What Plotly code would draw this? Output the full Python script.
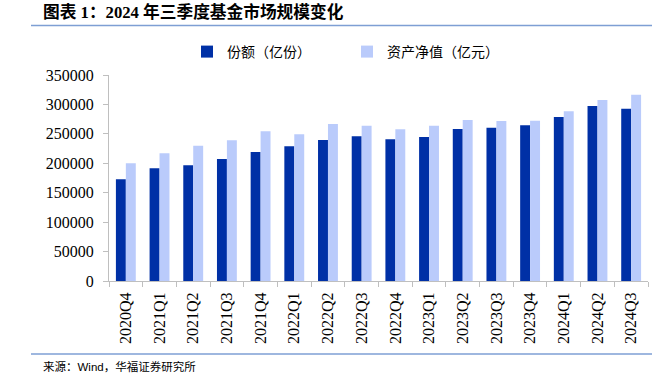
import plotly.graph_objects as go

categories = ["2020Q4", "2021Q1", "2021Q2", "2021Q3", "2021Q4", "2022Q1", "2022Q2", "2022Q3",
              "2022Q4", "2023Q1", "2023Q2", "2023Q3", "2023Q4", "2024Q1", "2024Q2", "2024Q3"]
shares = [172800, 191500, 196600, 207300, 219200, 228800, 239600, 245800,
          240700, 244700, 258300, 260500, 264500, 278600, 297300, 292800]
nav = [200000, 217000, 229900, 239000, 254300, 249200, 266700, 263900,
       257700, 263900, 273500, 271800, 272400, 288300, 307500, 316500]
y_ticks = [0, 50000, 100000, 150000, 200000, 250000, 300000, 350000]

W, H = 666, 380
L, R, T, B = 109, 18, 75, 99
PW, PH = W - L - R, H - T - B


def px_x(p):
    return (p - L) / PW


def px_y(p):
    return 1 + (T - p) / PH


fig = go.Figure()
fig.add_trace(go.Bar(x=categories, y=shares, name="份额（亿份）", marker_color="#0030A6",
                     marker_line_width=0))
fig.add_trace(go.Bar(x=categories, y=nav, name="资产净值（亿元）", marker_color="#BACBFB",
                     marker_line_width=0))

serif = "Liberation Serif, Times New Roman, serif"
cjk = "Noto Sans CJK SC"

fig.update_layout(
    width=W, height=H,
    margin=dict(l=L, r=R, t=T, b=B, pad=0, autoexpand=False),
    paper_bgcolor="white", plot_bgcolor="white",
    barmode="group", bargap=0.41, bargroupgap=0,
    showlegend=True,
    legend=dict(orientation="h", x=px_x(187), xanchor="left",
                y=px_y(52), yanchor="middle",
                font=dict(family=cjk, size=14, color="#000000"),
                entrywidth=115, entrywidthmode="pixels",
                bgcolor="rgba(0,0,0,0)", itemclick=False),
    xaxis=dict(type="category", showline=True, linecolor="#BFBFBF", linewidth=1,
               ticks="outside", tickson="boundaries", ticklen=5, tickcolor="#BFBFBF",
               tickangle=-90, tickfont=dict(family=serif, size=16, color="#000000"),
               ticklabelstandoff=4, automargin=False,
               showgrid=False, zeroline=False),
    yaxis=dict(range=[0, 350000], tickvals=y_ticks, ticktext=[str(v) for v in y_ticks],
               showline=True, linecolor="#BFBFBF", linewidth=1,
               ticks="outside", ticklen=5, tickcolor="#BFBFBF",
               tickfont=dict(family=serif, size=16, color="#000000"),
               ticklabelstandoff=6, automargin=False,
               showgrid=False, zeroline=False),
)

# Title
fig.add_annotation(text="<b>图表 1：2024 年三季度基金市场规模变化</b>", xref="paper", yref="paper",
                   x=px_x(41), y=px_y(12),
                   xanchor="left", yanchor="middle", showarrow=False,
                   font=dict(family="Liberation Serif, Noto Sans CJK SC", size=16.7, color="#000000"))
# Lines under title and above source
for ypix in (25.5, 354):
    fig.add_shape(type="line", xref="paper", yref="paper",
                  x0=px_x(31), x1=px_x(652), y0=px_y(ypix), y1=px_y(ypix),
                  line=dict(color="#7E9FD4", width=1.5))
# Source
fig.add_annotation(text="来源：Wind，华福证券研究所", xref="paper", yref="paper",
                   x=px_x(41), y=px_y(366),
                   xanchor="left", yanchor="middle", showarrow=False,
                   font=dict(family="Liberation Sans, Noto Sans CJK SC", size=11.5, color="#000000"))

fig.write_html("out.html", config={"displayModeBar": False},
               post_script="document.body.style.margin='0';document.body.style.padding='0';")
